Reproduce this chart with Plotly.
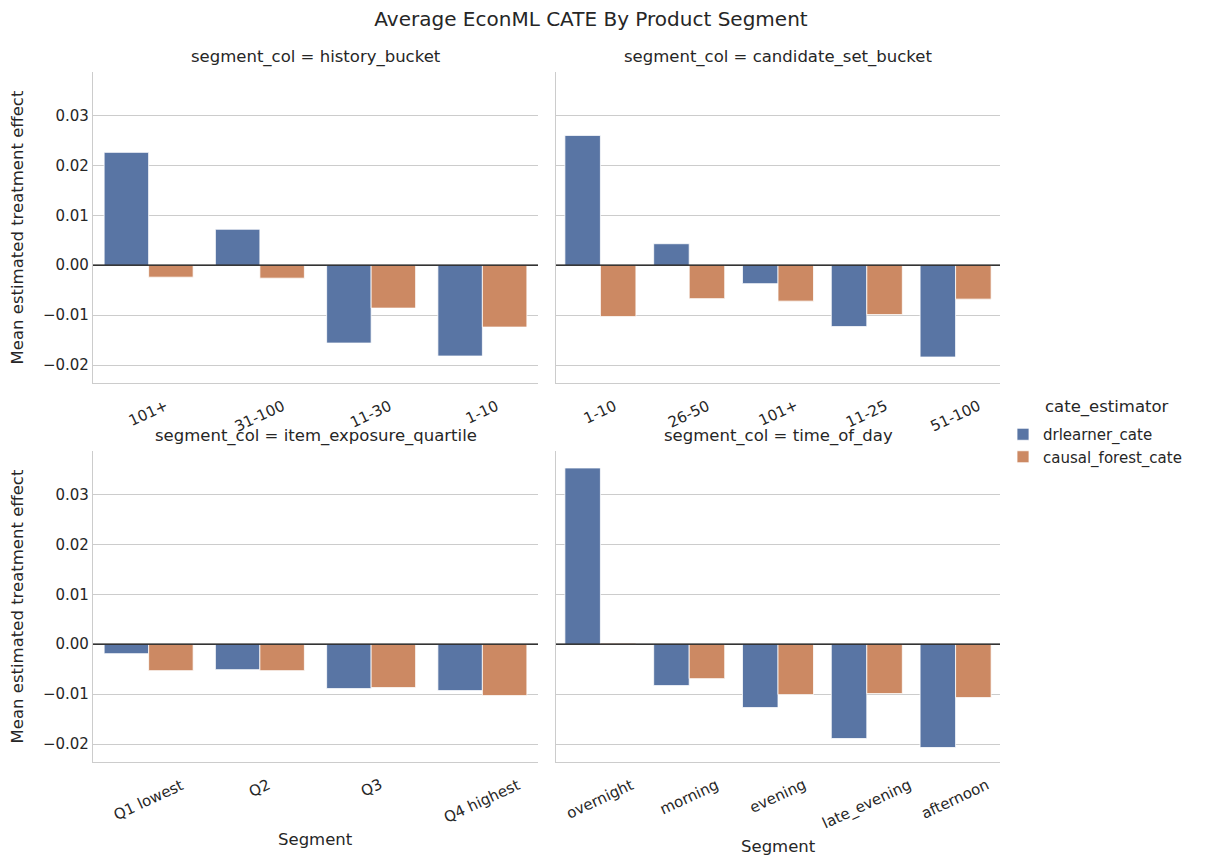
import plotly.graph_objects as go

# the page puts the plot 8px in from the top left corner
OFF = 8
W, H = 1212 - 2 * OFF, 865 - 2 * OFF

estimators = ["drlearner_cate", "causal_forest_cate"]
colors = ["#5975a4", "#cc8963"]

segment_cols = ["history_bucket", "candidate_set_bucket", "item_exposure_quartile", "time_of_day"]

history_cats = ["101+", "31-100", "11-30", "1-10"]
history_drl = [0.0226, 0.0072, -0.0156, -0.0182]
history_cf = [-0.0024, -0.0026, -0.0086, -0.0124]

candidate_cats = ["1-10", "26-50", "101+", "11-25", "51-100"]
candidate_drl = [0.0260, 0.0043, -0.0037, -0.0123, -0.0184]
candidate_cf = [-0.0103, -0.0067, -0.0072, -0.0099, -0.0068]

exposure_cats = ["Q1 lowest", "Q2", "Q3", "Q4 highest"]
exposure_drl = [-0.0019, -0.0051, -0.0089, -0.0093]
exposure_cf = [-0.0053, -0.0053, -0.0087, -0.0103]

time_cats = ["overnight", "morning", "evening", "late_evening", "afternoon"]
time_drl = [0.0353, -0.0083, -0.0127, -0.0189, -0.0207]
time_cf = [0.0002, -0.0069, -0.0101, -0.0099, -0.0107]

y_ticks = [-0.02, -0.01, 0.00, 0.01, 0.02, 0.03]

panels = [
    (history_cats, history_drl, history_cf),
    (candidate_cats, candidate_drl, candidate_cf),
    (exposure_cats, exposure_drl, exposure_cf),
    (time_cats, time_drl, time_cf),
]

# screen pixel boxes (as in the reference), converted below
L, R, T, B = 93, 1000, 72, 762
PW, PH = R - L, B - T
col_x = [(93, 538), (556, 1000)]
row_y = [(72, 383), (451, 762)]


def px_x(x):
    return (x - L) / PW


def px_y(y):
    return 1 - (y - T) / PH


FONT = "DejaVu Sans"
TXT = "#262626"
SPINE = "#cccccc"

fig = go.Figure()
layout = {}
annotations = []
shapes = []

for i, (cats, drl, cf) in enumerate(panels):
    r, c = divmod(i, 2)
    n = i + 1
    xa = "x" if n == 1 else "x%d" % n
    ya = "y" if n == 1 else "y%d" % n
    for k, vals in enumerate([drl, cf]):
        fig.add_trace(go.Bar(
            x=cats, y=vals, name=estimators[k],
            marker=dict(color=colors[k], line=dict(color="white", width=0.8)),
            legendgroup=estimators[k], showlegend=(i == 0),
            xaxis=xa, yaxis=ya,
        ))
    x0, x1 = col_x[c]
    y0, y1 = row_y[r]
    layout["xaxis" if n == 1 else "xaxis%d" % n] = dict(
        domain=[px_x(x0), px_x(x1)], anchor=ya, type="category",
        range=[-0.5, len(cats) - 0.5], automargin=False,
        showline=True, linecolor=SPINE, linewidth=1.25, showgrid=False,
        showticklabels=False, ticks="",
    )
    layout["yaxis" if n == 1 else "yaxis%d" % n] = dict(
        domain=[px_y(y1), px_y(y0)], anchor=xa, automargin=False,
        range=[-0.0236, 0.0387], tickvals=y_ticks, tickformat=".2f",
        showticklabels=(c == 0), showline=True, linecolor=SPINE, linewidth=1.25,
        showgrid=True, gridcolor=SPINE, gridwidth=1, zeroline=False,
        ticks="", tickfont=dict(size=15, color=TXT),
        title=dict(text="Mean estimated treatment effect" if c == 0 else "",
                   font=dict(size=16.5, color=TXT), standoff=15),
    )
    # black reference line at zero, on top of the bars
    shapes.append(dict(
        type="line", xref=xa + " domain", yref=ya, x0=0, x1=1, y0=0, y1=0,
        line=dict(color="black", width=1.3), layer="above",
    ))
    annotations.append(dict(
        text="segment_col = " + segment_cols[i], x=px_x((x0 + x1) / 2), y=px_y(y0 - 3),
        xref="paper", yref="paper", xanchor="center", yanchor="bottom",
        showarrow=False, font=dict(size=16.5, color=TXT),
    ))
    # rotated category labels, centred on their ticks like matplotlib
    for cat in cats:
        annotations.append(dict(
            text=cat, x=cat, xref=xa, y=px_y(y1 + 11), yref="paper",
            xanchor="center", yanchor="top", textangle=-25, showarrow=False,
            font=dict(size=15, color=TXT),
        ))

for sx, sy in [(315, 839), (778, 846)]:
    annotations.append(dict(
        text="Segment", x=px_x(sx), y=px_y(sy), xref="paper", yref="paper",
        xanchor="center", yanchor="middle", showarrow=False,
        font=dict(size=16.5, color=TXT),
    ))

# legend title, centred over the legend box as seaborn does
annotations.append(dict(
    text="cate_estimator", x=px_x(1107), y=px_y(407), xref="paper", yref="paper",
    xanchor="center", yanchor="middle", showarrow=False,
    font=dict(size=16.5, color=TXT),
))

fig.update_layout(
    width=W, height=H,
    margin=dict(l=L - OFF, r=W - (R - OFF), t=T - OFF, b=H - (B - OFF), autoexpand=False),
    paper_bgcolor="white", plot_bgcolor="white",
    font=dict(family=FONT, color=TXT),
    barmode="group", bargap=0.2, bargroupgap=0,
    title=dict(text="Average EconML CATE By Product Segment", x=(591 - OFF) / W, xref="container",
               xanchor="center", y=1 - (19 - OFF) / H, yref="container", yanchor="middle",
               font=dict(size=20, color=TXT)),
    legend=dict(x=px_x(1003), y=px_y(418), xanchor="left", yanchor="top",
                font=dict(size=15, color=TXT), bgcolor="rgba(0,0,0,0)",
                tracegroupgap=0),
    annotations=annotations,
    shapes=shapes,
    **layout,
)

fig.write_html("out.html")
